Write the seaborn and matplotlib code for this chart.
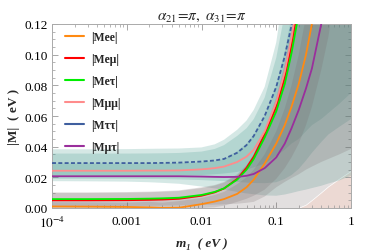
import numpy as np
import pandas as pd
import matplotlib
matplotlib.use("Agg")
import matplotlib.pyplot as plt
import seaborn as sns
from matplotlib.ticker import MultipleLocator, FixedLocator, LogLocator, NullFormatter

# lightest neutrino mass grid (eV)
m1 = [1e-4, 3e-4, 1e-3, 2e-3, 3e-3, 5e-3, 0.01, 0.015, 0.02, 0.03, 0.04, 0.05,
      0.07, 0.1, 0.13, 0.16, 0.2, 0.25, 0.3, 0.4, 0.5, 0.7, 1.0]

# central curves |M_ab| (eV)
mee = [0.0010, 0.0009, 0.0007, 0.0004, 0.0001, 0.0002, 0.0025, 0.0042, 0.0058, 0.0092, 0.0135, 0.0185,
       0.0290, 0.0420, 0.0540, 0.0660, 0.0810, 0.100, 0.120, 0.160, 0.200, 0.280, 0.400]
mem = [0.0050, 0.0050, 0.0051, 0.0053, 0.0055, 0.0060, 0.0080, 0.0102, 0.0127, 0.0190, 0.0262, 0.0335,
       0.0480, 0.0660, 0.0850, 0.1060, 0.1340, 0.168, 0.200, 0.270, 0.340, 0.470, 0.670]
met = [0.0058, 0.0058, 0.0059, 0.0061, 0.0063, 0.0067, 0.0085, 0.0105, 0.0128, 0.0185, 0.0250, 0.0320,
       0.0460, 0.0630, 0.0810, 0.1010, 0.1270, 0.158, 0.190, 0.250, 0.310, 0.440, 0.620]
mmm = [0.0243, 0.0243, 0.0243, 0.0244, 0.0244, 0.0245, 0.0252, 0.0260, 0.0270, 0.0300, 0.0335, 0.0380,
       0.0500, 0.0690, 0.0890, 0.1110, 0.1400, 0.175, 0.210, 0.280, 0.350, 0.490, 0.700]
mtt = [0.0293, 0.0293, 0.0293, 0.0293, 0.0294, 0.0296, 0.0303, 0.0310, 0.0320, 0.0360, 0.0410, 0.0470,
       0.0600, 0.0790, 0.0990, 0.1190, 0.1460, 0.180, 0.215, 0.290, 0.360, 0.500, 0.720]
mmt = [0.0207, 0.0207, 0.0207, 0.0207, 0.0207, 0.0207, 0.0205, 0.0203, 0.0202, 0.0203, 0.0210, 0.0222,
       0.0260, 0.0330, 0.0420, 0.0520, 0.0640, 0.078, 0.091, 0.120, 0.150, 0.210, 0.300]

# 3 sigma bands (lower, upper)
tt_lo = [0.0210, 0.0210, 0.0210, 0.0210, 0.0211, 0.0212, 0.0215, 0.0220, 0.0225, 0.0235, 0.0250, 0.0265,
         0.0290, 0.0340, 0.0380, 0.0420, 0.0450, 0.050, 0.054, 0.058, 0.062, 0.068, 0.075]
tt_hi = [0.0383, 0.0383, 0.0384, 0.0386, 0.0387, 0.0388, 0.0395, 0.0415, 0.0445, 0.0510, 0.0570, 0.0640,
         0.0790, 0.1080, 0.146, 0.180, 0.225, 0.280, 0.340, 0.450, 0.560, 0.780, 1.120]
mm_lo = [0.0190, 0.0190, 0.0190, 0.0189, 0.0188, 0.0186, 0.0182, 0.0178, 0.0175, 0.0170, 0.0166, 0.0163,
         0.0162, 0.0168, 0.0190, 0.0215, 0.0255, 0.031, 0.036, 0.043, 0.048, 0.053, 0.058]
mm_hi = [0.0355, 0.0355, 0.0355, 0.0356, 0.0357, 0.0359, 0.0368, 0.0385, 0.0410, 0.0470, 0.0520, 0.0580,
         0.0720, 0.0980, 0.127, 0.155, 0.195, 0.245, 0.290, 0.390, 0.490, 0.680, 0.970]
mt_lo = [0.0175, 0.0174, 0.0172, 0.0168, 0.0164, 0.0158, 0.0140, 0.0128, 0.0120, 0.0105, 0.0095, 0.0090,
         0.0082, 0.0080, 0.0088, 0.0098, 0.0110, 0.012, 0.013, 0.0145, 0.016, 0.018, 0.021]
mt_hi = [0.0290, 0.0290, 0.0290, 0.0291, 0.0292, 0.0293, 0.0298, 0.0308, 0.0320, 0.0370, 0.0420, 0.0480,
         0.0600, 0.0800, 0.1020, 0.1250, 0.155, 0.190, 0.230, 0.300, 0.380, 0.530, 0.750]
em_lo = [0, 0, 0, 0, 0, 0, 0, 0, 0, 0, 0, 0,
         0, 0, 0, 0, 0, 0.002, 0.005, 0.010, 0.014, 0.019, 0.024]
em_hi = [0.0102, 0.0102, 0.0104, 0.0107, 0.0110, 0.0115, 0.0135, 0.0150, 0.0170, 0.0220, 0.0280, 0.0350,
         0.0500, 0.0720, 0.094, 0.116, 0.145, 0.180, 0.220, 0.290, 0.360, 0.500, 0.720]
et_lo = [0.0012, 0.0012, 0.0013, 0.0014, 0.0015, 0.0017, 0.0020, 0.0022, 0.0024, 0.0028, 0.0034, 0.0040,
         0.0075, 0.0135, 0.0170, 0.0195, 0.0220, 0.025, 0.027, 0.030, 0.032, 0.035, 0.0385]
et_hi = [0.0098, 0.0098, 0.0100, 0.0103, 0.0106, 0.0111, 0.0130, 0.0146, 0.0165, 0.0212, 0.0270, 0.0340,
         0.0485, 0.0700, 0.091, 0.112, 0.140, 0.175, 0.210, 0.280, 0.350, 0.490, 0.700]
ee_lo = [0, 0, 0, 0, 0, 0, 0, 0.0005, 0.0015, 0.0040, 0.0060, 0.0080,
         0.0120, 0.0190, 0.026, 0.033, 0.042, 0.054, 0.066, 0.090, 0.112, 0.160, 0.230]
ee_hi = [0.0038, 0.0037, 0.0035, 0.0040, 0.0035, 0.0045, 0.0065, 0.0085, 0.0105, 0.0155, 0.0200, 0.0250,
         0.0350, 0.0500, 0.065, 0.080, 0.100, 0.125, 0.150, 0.200, 0.250, 0.350, 0.500]

labels = ["|Mee|", "|Meμ|", "|Meτ|", "|Mμμ|", "|Mττ|", "|Mμτ|"]
colors = ["#ff8a12", "#ff0000", "#00ee00", "#ff8c8c", "#3f5f9f", "#9a2f9c"]

df = pd.DataFrame({"m1": m1, labels[0]: mee, labels[1]: mem, labels[2]: met,
                   labels[3]: mmm, labels[4]: mtt, labels[5]: mmt})
long = df.melt(id_vars="m1", var_name="element", value_name="M")

sns.set_theme(style="ticks")
plt.rcParams["font.family"] = ["Liberation Serif", "DejaVu Serif"]
plt.rcParams["mathtext.fontset"] = "stix"

fig = plt.figure(figsize=(3.74, 2.53), dpi=100)
ax = fig.add_axes([52 / 374, 1 - 209 / 253, 299 / 374, 184 / 253])

# pale region under the lowest grey band
ax.fill_between(m1, 0, em_lo, color="#ecd9d3", lw=0, zorder=0)

teal = "#4a9d92"
grey = "#77696b"
for lo, hi in [(tt_lo, tt_hi), (mm_lo, mm_hi), (mt_lo, mt_hi)]:
    ax.fill_between(m1, lo, hi, color=teal, alpha=0.23, lw=0, zorder=1)
for lo, hi in [(em_lo, em_hi), (et_lo, et_hi), (ee_lo, ee_hi)]:
    ax.fill_between(m1, lo, hi, color=grey, alpha=0.21, lw=0, zorder=1)

sns.lineplot(data=long, x="m1", y="M", hue="element", hue_order=labels,
             palette=colors, style="element", style_order=labels,
             dashes=[(None, None)] * 4 + [(2.2, 1.3)] + [(None, None)],
             linewidth=1.3, sort=False, ax=ax, zorder=3)

ax.set_xscale("log")
ax.set_xlim(1e-4, 1)
ax.set_ylim(0, 0.12)

ax.xaxis.set_major_locator(FixedLocator([1e-4, 1e-3, 1e-2, 1e-1, 1]))
ax.set_xticklabels([r"$10^{-4}$", "0.001", "0.01", "0.1", "1"])
ax.xaxis.set_minor_locator(LogLocator(base=10, subs=np.arange(2, 10)))
ax.xaxis.set_minor_formatter(NullFormatter())
ax.yaxis.set_major_locator(MultipleLocator(0.02))
ax.yaxis.set_minor_locator(MultipleLocator(0.005))
ax.set_yticklabels([f"{v:.2f}" for v in ax.get_yticks()])

ax.tick_params(which="both", direction="in", top=True, right=True,
               color="#999999", labelsize=9.5, labelcolor="black")
ax.tick_params(axis="x", pad=5)
ax.tick_params(axis="y", pad=3)
ax.tick_params(which="major", length=4, width=0.6)
ax.tick_params(which="minor", length=2, width=0.5)
for s in ax.spines.values():
    s.set_color("#aaaaaa")
    s.set_linewidth(0.7)

ax.set_xlabel("m\u2081  ( eV )", fontsize=9.5, fontweight="bold", fontstyle="italic", labelpad=5)
ax.set_ylabel("|M|  ( eV )", fontsize=9.5, fontweight="bold", labelpad=3)
ax.set_title(r"$\alpha_{21}\!=\!\pi,\ \alpha_{31}\!=\!\pi$", fontsize=11, pad=4)

leg = ax.legend(loc="upper left", frameon=False, fontsize=8.5, handlelength=1.6,
                handletextpad=0.6, labelspacing=0.85, borderaxespad=0.2,
                bbox_to_anchor=(0.02, 1.0))
for t in leg.get_texts():
    t.set_fontweight("bold")
for h in leg.legend_handles:
    h.set_linewidth(1.5)
    h.set_linestyle("-")

fig.savefig("out.png", dpi=100)
plt.close(fig)
